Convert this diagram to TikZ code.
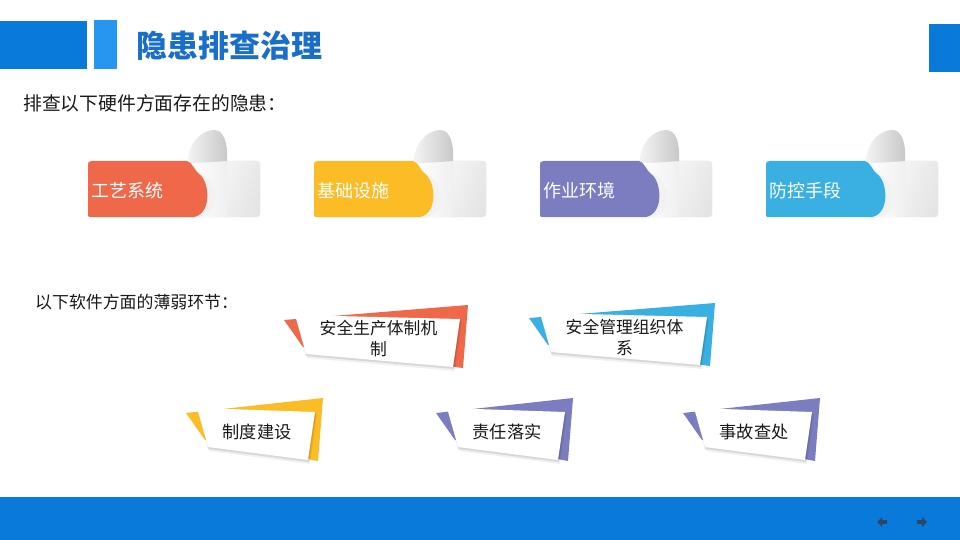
\documentclass[tikz,border=0pt]{standalone}
\usepackage{fontspec}
\setmainfont{Noto Sans CJK SC}
\definecolor{hdrblue}{RGB}{10,122,218}
\definecolor{barblue}{RGB}{38,150,240}
\definecolor{titleblue}{RGB}{24,110,200}
\definecolor{corange}{RGB}{240,104,74}
\definecolor{cyellow}{RGB}{251,188,38}
\definecolor{cpurple}{RGB}{123,125,192}
\definecolor{cblue}{RGB}{58,176,226}
\definecolor{icongray}{RGB}{45,70,100}
\tikzset{
  titletext/.style={font=\fontsize{31}{34}\selectfont\bfseries, text=titleblue, inner sep=0pt, anchor=west},
  leadtext/.style={inner sep=0pt, anchor=west, text=black!90},
  tagtext/.style={font=\fontsize{18}{20}\selectfont, text=white, inner sep=0pt, anchor=west},
  cardtext/.style={font=\fontsize{16.8}{21}\selectfont, text=black!90, align=center, inner sep=0pt},
  cardtextb/.style={font=\fontsize{17.2}{21}\selectfont, text=black!90, align=center, inner sep=0pt},
}
\newcommand\peeltag[4]{%
  \begin{scope}[shift={(#1,161)}]
    % flat sheet behind
    \shade[left color=white, right color=black!10, shading angle=70, rounded corners=3] (96,0) rectangle (172,56);
    \draw[black!8, rounded corners=3] (96,0) rectangle (172,56);
    % lower flap
    \shade[left color=white, right color=black!6] (100,2) -- (139,0) -- (139,56) -- (106,56) -- cycle;
    % curl
    \shade[left color=black!4, middle color=white, right color=black!22]
      (100,2) .. controls (99,-15) and (112,-31) .. (126,-31)
      .. controls (136,-31) and (140,-18) .. (139,0)
      .. controls (125,1) and (112,2) .. (100,2) -- cycle;
    % shadow of the coloured part on the flap
    \fill[black!10] (99,0)
      .. controls (104,1) and (106,9) .. (113,14)
      .. controls (125,20) and (129,52) .. (110,56) -- (104,56) -- cycle;
    \fill[black!5] (99,0)
      .. controls (104,1) and (106,9) .. (116,15)
      .. controls (129,22) and (133,52) .. (113,56) -- (104,56) -- cycle;
    % coloured label
    \fill[#2] (0,4) .. controls (0,1) .. (4,0) -- (99,0)
      .. controls (104,1) and (106,9) .. (111,13)
      .. controls (121,19) and (125,52) .. (106,56)
      -- (4,56) .. controls (0,56) .. (0,52) -- cycle;
  \end{scope}
  \node[tagtext] (#3) at (#1+3,191) {#4};
}
\newcommand\card[7]{%
  \fill[#4] (#1-11,#2+5) -- (#1+#3+8,#2-10) -- (#1+#3+3,#2+53) -- (#1+8,#2+32) -- cycle;
  \fill[black, opacity=0.06] (#1+2,#2+3) -- (#1+#3+2,#2+7) -- (#1+#3-5,#2+56) -- (#1+12,#2+43) -- cycle;
  \fill[black, opacity=0.10] (#1+1,#2+2) -- (#1+#3+1,#2+5) -- (#1+#3-6,#2+54) -- (#1+11,#2+41) -- cycle;
  \fill[white] (#1,#2) -- (#1+#3,#2+4) -- (#1+#3-7,#2+52) -- (#1+11,#2+39) -- cycle;
  \node[#7] (#5) at (#1+#3/2+1,#2+24) {#6};
}
\begin{document}
\begin{tikzpicture}[x=1pt,y=-1pt]
\useasboundingbox (0,0) rectangle (960,540);
\fill[white] (0,0) rectangle (960,540);
% header
\fill[hdrblue] (0,21) rectangle (87,69);
\fill[barblue] (94,20) rectangle (117,69);
\fill[hdrblue] (929,24) rectangle (960,72);
\node[titletext] (title) at (136,46) {隐患排查治理};
% lead texts
\node[leadtext, font=\fontsize{18.8}{21}\selectfont] (hw) at (23,103) {排查以下硬件方面存在的隐患：};
\node[leadtext, font=\fontsize{16.9}{19}\selectfont] (sw) at (35,302) {以下软件方面的薄弱环节：};
% hardware tags
\peeltag{88}{corange}{t1}{工艺系统}
\peeltag{314}{cyellow}{t2}{基础设施}
\peeltag{540}{cpurple}{t3}{作业环境}
\peeltag{766}{cblue}{t4}{防控手段}
% software cards
\card{295}{315}{165}{corange}{c1}{安全生产体制机\\制}{cardtext}
\card{540}{313}{167}{cblue}{c2}{安全管理组织体\\系}{cardtext}
\card{197}{408}{118}{cyellow}{c3}{制度建设}{cardtextb}
\card{447}{408}{118}{cpurple}{c4}{责任落实}{cardtextb}
\card{694}{408}{118}{cpurple}{c5}{事故查处}{cardtextb}
% footer
\fill[hdrblue] (0,497) rectangle (960,540);
\fill[icongray] (877,522) -- (882,517) -- (882,520) -- (887,520) -- (887,524) -- (882,524) -- (882,527) -- cycle;
\fill[icongray] (927,522) -- (922,517) -- (922,520) -- (917,520) -- (917,524) -- (922,524) -- (922,527) -- cycle;
\end{tikzpicture}
\end{document}
